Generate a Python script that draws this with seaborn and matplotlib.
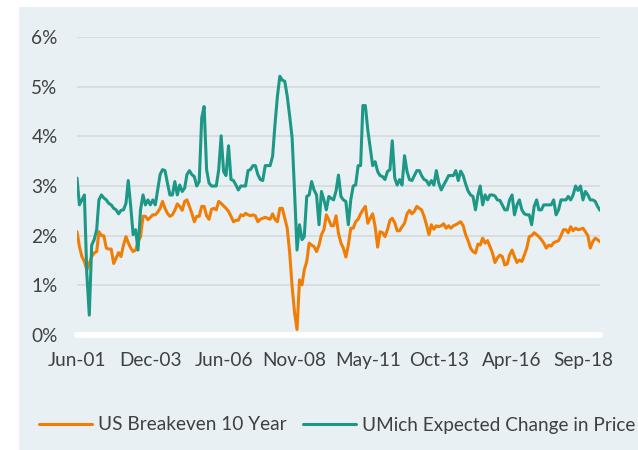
import numpy as np
import pandas as pd
import matplotlib
matplotlib.use("Agg")
import matplotlib.pyplot as plt
import seaborn as sns
from matplotlib.lines import Line2D
from matplotlib.patches import Rectangle
from matplotlib.ticker import FuncFormatter

# ---------------- data (monthly, Jun-2001 onward, in %) ----------------
start_month = "2001-06-01"

breakeven_10y = [
    2.08, 1.78, 1.58, 1.48, 1.31, 1.44, 1.58, 1.65, 1.68, 2.08,
    2.00, 2.00, 1.75, 1.73, 1.73, 1.44, 1.55, 1.66, 1.58, 1.81,
    1.98, 1.86, 1.75, 1.68, 1.71, 1.88, 1.98, 2.39, 2.39, 2.32,
    2.37, 2.42, 2.42, 2.47, 2.55, 2.69, 2.55, 2.45, 2.39, 2.42,
    2.51, 2.64, 2.59, 2.51, 2.69, 2.72, 2.59, 2.45, 2.28, 2.39,
    2.39, 2.59, 2.59, 2.40, 2.33, 2.53, 2.55, 2.52, 2.69, 2.65,
    2.60, 2.55, 2.49, 2.39, 2.28, 2.31, 2.31, 2.42, 2.40, 2.45,
    2.42, 2.40, 2.42, 2.40, 2.28, 2.33, 2.35, 2.37, 2.35, 2.33,
    2.44, 2.33, 2.28, 2.55, 2.55, 2.35, 2.15, 1.65, 0.97, 0.44,
    0.11, 1.11, 1.01, 1.31, 1.48, 1.85, 1.81, 1.78, 1.68, 1.81,
    2.02, 2.12, 2.42, 2.32, 2.20, 2.20, 2.40, 2.05, 1.85, 1.75,
    1.57, 1.81, 2.15, 2.15, 2.28, 2.33, 2.44, 2.52, 2.59, 2.25,
    2.35, 2.44, 2.18, 1.77, 2.08, 2.06, 1.98, 2.12, 2.31, 2.35,
    2.26, 2.10, 2.10, 2.18, 2.25, 2.44, 2.51, 2.44, 2.49, 2.59,
    2.55, 2.52, 2.39, 2.22, 2.02, 2.22, 2.13, 2.20, 2.18, 2.20,
    2.24, 2.15, 2.20, 2.15, 2.20, 2.22, 2.25, 2.28, 2.20, 2.02,
    1.90, 1.75, 1.68, 1.65, 1.83, 1.81, 1.95, 1.85, 1.90, 1.78,
    1.65, 1.46, 1.55, 1.61, 1.58, 1.41, 1.43, 1.61, 1.71, 1.58,
    1.46, 1.51, 1.48, 1.61, 1.75, 1.98, 2.00, 2.06, 2.02, 1.98,
    1.92, 1.85, 1.75, 1.81, 1.79, 1.86, 1.88, 1.90, 2.00, 2.12,
    2.12, 2.06, 2.18, 2.10, 2.15, 2.12, 2.13, 2.15, 2.08, 2.00,
    1.75, 1.88, 1.95, 1.92, 1.88,
]

umich_expected = [
    3.16, 2.62, 2.72, 2.82, 1.24, 0.40, 1.81, 1.92, 2.12, 2.72,
    2.82, 2.76, 2.72, 2.65, 2.62, 2.55, 2.52, 2.44, 2.51, 2.52,
    2.65, 3.11, 2.59, 2.02, 2.12, 1.71, 2.52, 2.82, 2.62, 2.72,
    2.62, 2.72, 2.62, 2.92, 3.23, 3.33, 3.31, 3.06, 2.82, 2.82,
    3.09, 2.82, 3.02, 2.89, 2.96, 3.23, 3.31, 3.23, 3.19, 3.00,
    3.09, 4.37, 4.60, 3.33, 3.06, 3.00, 3.00, 3.00, 3.33, 4.01,
    3.29, 3.21, 3.81, 3.13, 3.11, 3.02, 2.92, 3.00, 3.00, 3.00,
    3.31, 3.33, 3.41, 3.41, 3.23, 3.13, 3.11, 3.41, 3.41, 3.41,
    3.60, 4.23, 4.81, 5.21, 5.13, 5.11, 4.81, 4.40, 3.97, 2.86,
    1.71, 2.22, 1.92, 1.98, 2.79, 2.82, 3.09, 2.92, 2.82, 2.22,
    2.89, 2.72, 2.52, 2.79, 2.75, 2.72, 2.90, 3.22, 2.79, 2.72,
    2.69, 2.22, 2.72, 3.00, 3.02, 3.41, 3.41, 4.62, 4.62, 4.13,
    3.76, 3.41, 3.49, 3.29, 3.21, 3.19, 3.13, 3.29, 3.33, 3.91,
    3.16, 3.02, 3.13, 3.02, 3.61, 3.29, 3.13, 3.11, 3.21, 3.31,
    3.31, 3.21, 3.13, 3.11, 3.02, 3.11, 3.02, 3.31, 3.06, 2.92,
    3.02, 3.11, 3.21, 3.21, 3.21, 3.31, 3.11, 3.30, 3.21, 3.04,
    2.90, 2.82, 2.79, 2.52, 2.82, 3.00, 2.62, 2.82, 2.72, 2.82,
    2.82, 2.80, 2.72, 2.71, 2.62, 2.52, 2.52, 2.72, 2.82, 2.42,
    2.62, 2.72, 2.52, 2.44, 2.42, 2.42, 2.22, 2.59, 2.72, 2.52,
    2.52, 2.62, 2.62, 2.62, 2.62, 2.72, 2.42, 2.52, 2.72, 2.72,
    2.72, 2.79, 2.72, 2.82, 3.00, 2.91, 3.00, 2.72, 2.89, 2.82,
    2.72, 2.72, 2.69, 2.59, 2.51,
]

series_names = ["US Breakeven 10 Year", "UMich Expected Change in Price"]
tick_labels = ["Jun-01", "Dec-03", "Jun-06", "Nov-08", "May-11", "Oct-13", "Apr-16", "Sep-18"]
y_ticks = [0, 1, 2, 3, 4, 5, 6]

# ---------------- styling ----------------
ORANGE = "#F07E06"
TEAL = "#1E9886"
PANEL = "#E8F0F3"
GRID = "#D9DCDE"
TEXT = "#404040"

sns.set_theme(style="white")
plt.rcParams["font.family"] = ["Lato", "DejaVu Sans"]

dates = pd.date_range(start_month, periods=len(breakeven_10y), freq="MS")
df = pd.DataFrame({"date": dates,
                   series_names[0]: breakeven_10y,
                   series_names[1]: umich_expected})
long = df.melt(id_vars="date", var_name="series", value_name="value")

W, H = 638, 450
fig = plt.figure(figsize=(W / 100, H / 100), dpi=100)
fig.patch.set_facecolor("white")
fig.patches.append(Rectangle((19 / W, 0), 1 - 19 / W, (H - 7) / H,
                             transform=fig.transFigure, facecolor=PANEL,
                             edgecolor="none", zorder=-5))

ax = fig.add_axes([77 / W, (H - 335) / H, (600 - 77) / W, (335 - 37) / H])
ax.set_zorder(2)
ax.set_facecolor(PANEL)

for y in y_ticks[1:]:
    ax.axhline(y, color=GRID, lw=1.3, zorder=1)
ax.axhline(0, color="white", lw=4.3, zorder=1, clip_on=False)

sns.lineplot(data=long, x="date", y="value", hue="series",
             palette={series_names[0]: ORANGE, series_names[1]: TEAL},
             linewidth=2.2, ax=ax, legend=False, zorder=3)

ax.set_xlim(dates[0], dates[-1])
ax.set_ylim(0, 6)
ax.set_yticks(y_ticks)
ax.yaxis.set_major_formatter(FuncFormatter(lambda v, p: f"{v:.0f}%"))
tick_pos = pd.to_datetime(tick_labels, format="%b-%y")
ax.set_xticks(tick_pos)
ax.set_xticklabels(tick_labels)
ax.tick_params(axis="both", length=0, labelsize=13.7, colors=TEXT)
ax.tick_params(axis="y", pad=14)
ax.tick_params(axis="x", pad=12)
ax.set_xlabel("")
ax.set_ylabel("")
for s in ax.spines.values():
    s.set_visible(False)
ax.grid(False)

handles = [Line2D([], [], color=ORANGE, lw=2.2), Line2D([], [], color=TEAL, lw=2.2)]
leg = fig.legend(handles, series_names, loc="center left",
                 bbox_to_anchor=(39 / W, 1 - 425 / H), ncol=2, frameon=False,
                 fontsize=13.7, handlelength=2.8, handletextpad=0.3,
                 columnspacing=0.85, borderaxespad=0, borderpad=0)
for t in leg.get_texts():
    t.set_color(TEXT)

fig.savefig("out.png", dpi=100, facecolor="white")
